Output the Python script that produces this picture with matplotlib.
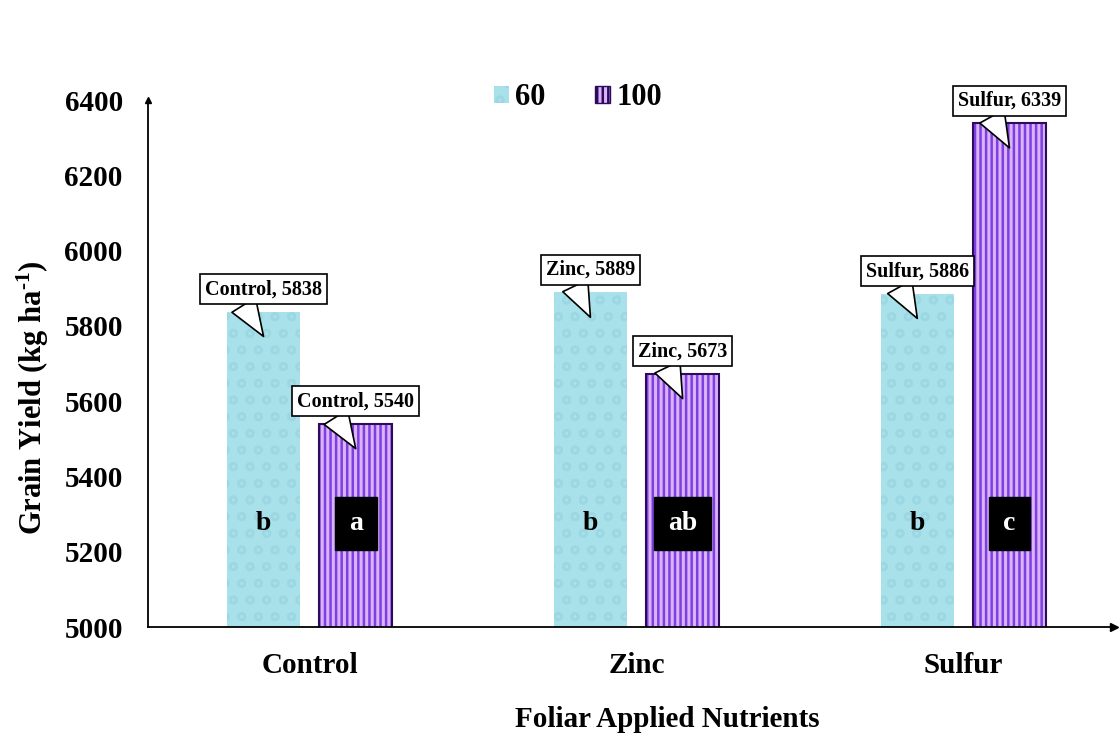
#!/usr/bin/env python3
import numpy as np
import matplotlib
matplotlib.use("Agg")
import matplotlib.pyplot as plt
from matplotlib.patches import Patch

categories = ["Control", "Zinc", "Sulfur"]
rate_60 = [5838, 5889, 5886]
rate_100 = [5540, 5673, 6339]
letters_60 = ["b", "b", "b"]
letters_100 = ["a", "ab", "c"]
series_names = ["60", "100"]
y_ticks = [5000, 5200, 5400, 5600, 5800, 6000, 6200, 6400]

plt.rcParams["font.family"] = ["Liberation Serif", "DejaVu Serif"]
plt.rcParams["font.weight"] = "bold"
plt.rcParams["mathtext.fontset"] = "custom"
plt.rcParams["mathtext.rm"] = "Liberation Serif:bold"
plt.rcParams["mathtext.bf"] = "Liberation Serif:bold"
plt.rcParams["mathtext.it"] = "Liberation Serif:bold:italic"
plt.rcParams["mathtext.default"] = "rm"
plt.rcParams["hatch.linewidth"] = 1.8

cyan = "#a8e1ea"
cyan_dot = "#9cd8e3"
lilac = "#dcb2fa"
violet = "#7c40e0"
outline = "#2c0b5c"

fig = plt.figure(figsize=(11.2, 7.36), dpi=100)
ax = fig.add_axes([0.132, 0.148, 0.863, 0.716])

x = np.arange(len(categories))
off = 0.141
w = 0.223

# 60 bars: light cyan with a faint droplet texture
ax.bar(x - off, rate_60, w, color=cyan, edgecolor=cyan_dot, hatch="o", linewidth=0)
# 100 bars: lilac with violet vertical stripes and a dark outline
ax.bar(x + off, rate_100, w, color=lilac, edgecolor=violet, hatch="|||", linewidth=0)
ax.bar(x + off, rate_100, w, color="none", edgecolor=outline, linewidth=1.5)

# callouts
tip_drop = 66
for xs, vals in [(x - off, rate_60), (x + off, rate_100)]:
    for xi, v, cat in zip(xs, vals, categories):
        ax.annotate(f"{cat}, {v}", xy=(xi, v - tip_drop), xytext=(0, 34),
                    textcoords="offset points", ha="center", va="center",
                    fontsize=14.5, fontweight="bold",
                    bbox=dict(boxstyle="square,pad=0.25", fc="white", ec="black", lw=1.2),
                    arrowprops=dict(arrowstyle="wedge,tail_width=1.0", fc="white",
                                    ec="black", lw=1.2, mutation_scale=20,
                                    relpos=(0.3, 0.0), shrinkA=0, shrinkB=0))

# significance letters
letter_y = 5275
for xi, lt in zip(x - off, letters_60):
    ax.text(xi, letter_y, lt, ha="center", va="center", fontsize=20,
            fontweight="bold", color="black")
for xi, lt in zip(x + off, letters_100):
    ax.text(xi, letter_y, lt, ha="center", va="center", fontsize=20,
            fontweight="bold", color="white",
            bbox=dict(boxstyle="square,pad=0.5", fc="black", ec="black"))

ax.set_xlim(-0.495, 2.462)
ax.set_ylim(5000, 6400)
ax.set_yticks(y_ticks)
ax.set_xticks(x)
ax.set_xticklabels(categories)
ax.tick_params(axis="both", length=0, labelsize=21)
ax.tick_params(axis="y", pad=18)
ax.tick_params(axis="x", pad=18)

for s in ["top", "right"]:
    ax.spines[s].set_visible(False)
for s in ["left", "bottom"]:
    ax.spines[s].set_linewidth(1.3)
ax.plot(1, 0, ">k", ms=6, transform=ax.transAxes, clip_on=False)
ax.plot(0, 1, "^k", ms=5, transform=ax.transAxes, clip_on=False)

ax.set_ylabel(r"Grain Yield (kg ha$^{‐1}$)", fontsize=22, fontweight="bold")
ax.yaxis.set_label_coords(-0.1, 0.435)
ax.set_xlabel("Foliar Applied Nutrients", fontsize=21, fontweight="bold")
ax.xaxis.set_label_coords(0.537, -0.15)

handles = [Patch(facecolor=cyan, edgecolor=cyan_dot, hatch="o", linewidth=0),
           Patch(facecolor=lilac, edgecolor=outline, hatch="|||", linewidth=1)]
fig.legend(handles, series_names, loc="center", bbox_to_anchor=(0.516, 0.867),
           ncol=2, frameon=False, fontsize=22, handlelength=0.5, handleheight=0.5,
           handletextpad=0.2, columnspacing=1.6)

fig.savefig("out.png", dpi=100, facecolor="white")
